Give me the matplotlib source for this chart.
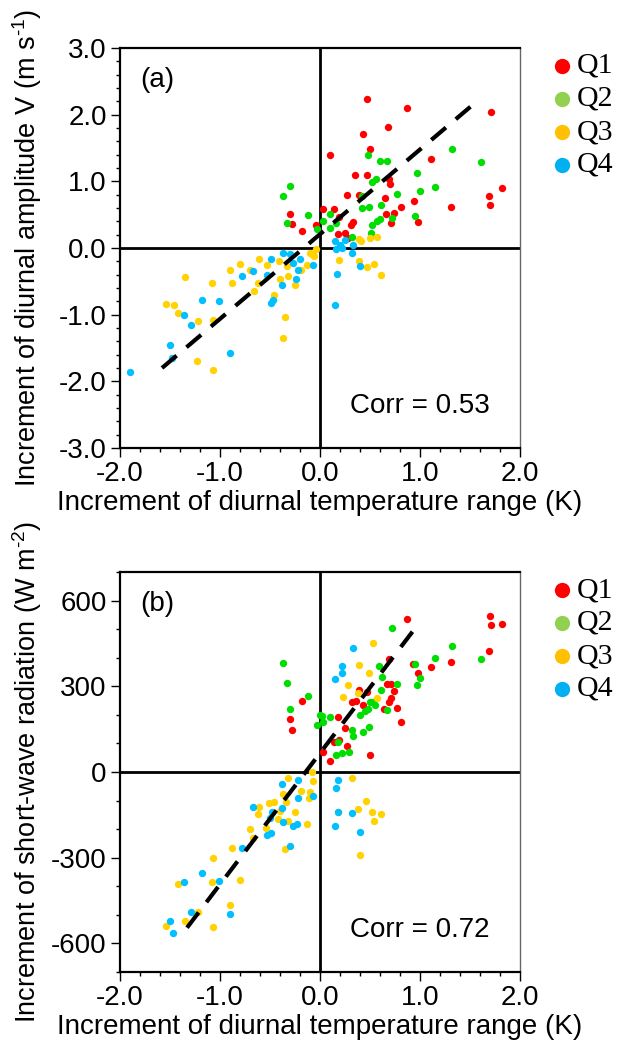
import matplotlib
matplotlib.use("Agg")
import matplotlib.pyplot as plt
import numpy as np

plt.rcParams["font.family"] = "Liberation Sans"
plt.rcParams["mathtext.fontset"] = "custom"
plt.rcParams["mathtext.rm"] = "Liberation Sans"
plt.rcParams["mathtext.it"] = "Liberation Sans:italic"

# ---- panel (a): DTR increment vs diurnal amplitude V increment ----
a_q1_x = [-0.30, -0.28, -0.18, -0.04, 0.47, 0.87, 1.71, 0.68, 0.43, 0.10, 0.50, 1.11,
          0.35, 0.47, 0.69, 0.70, 1.82, 1.69, 1.70, 1.31, 0.27, 0.39, 0.65, 0.81,
          0.94, 0.03, 0.14, 0.19, 0.66, 0.74, 0.71, 0.98, 0.33, 0.31, 0.25, 0.18, 0.28]
a_q1_y = [0.51, 0.36, 0.26, 0.34, 2.24, 2.10, 2.04, 1.82, 1.71, 1.40, 1.48, 1.34,
          1.09, 1.10, 1.04, 0.96, 0.90, 0.78, 0.64, 0.61, 0.80, 0.80, 0.75, 0.62,
          0.70, 0.59, 0.59, 0.46, 0.51, 0.52, 0.38, 0.39, 0.39, 0.34, 0.23, 0.21, 0.15]
a_q2_x = [-0.30, -0.37, -0.12, -0.33, -0.03, 0.48, 0.60, 0.67, 1.32, 1.61, 0.52, 0.56,
          0.97, 1.15, 1.00, 0.42, 0.77, 0.61, 0.42, 0.49, 0.10, 0.03, 0.16, 0.72,
          0.60, 0.57, 0.52, 0.95, 0.51, 0.32, 0.10]
a_q2_y = [0.93, 0.78, 0.49, 0.38, 0.28, 1.40, 1.30, 1.30, 1.48, 1.29, 0.99, 1.03,
          1.13, 0.92, 0.86, 0.78, 0.81, 0.65, 0.60, 0.61, 0.51, 0.40, 0.38, 0.45,
          0.44, 0.40, 0.34, 0.48, 0.23, 0.17, 0.30]
a_q3_x = [-0.10, -0.06, -0.61, -0.53, -0.41, -0.33, -0.80, -0.90, -0.70, -0.19, -0.13,
          -1.35, -1.08, -0.88, -0.62, -0.40, -0.32, -0.25, -0.66, -0.46, -1.54, -1.46,
          -1.42, -1.22, -1.07, -0.35, -0.37, -1.23, -1.07, -0.07, 0.19, 0.39, 0.47,
          0.54, 0.61, 0.39, 0.50, 0.57, 0.41, -0.04]
a_q3_y = [-0.07, -0.12, -0.16, -0.26, -0.19, -0.27, -0.24, -0.33, -0.33, -0.33, -0.26,
          -0.44, -0.52, -0.52, -0.53, -0.47, -0.42, -0.56, -0.64, -0.70, -0.84, -0.86,
          -0.98, -1.10, -1.08, -1.03, -1.35, -1.70, -1.83, -0.10, -0.18, -0.19, -0.29,
          -0.24, -0.41, 0.13, 0.15, 0.16, 0.10, -0.02]
a_q4_x = [-0.37, -0.30, -0.20, -0.49, -0.27, -0.67, -0.07, -0.22, -0.53, -0.78, -0.38,
          -0.24, -0.47, -0.49, -1.18, -1.01, -1.36, -1.29, -1.50, -1.48, -0.90, -1.90,
          0.15, 0.20, 0.25, 0.33, 0.16, 0.32, 0.40, 0.17, 0.15, 0.22]
a_q4_y = [-0.07, -0.09, -0.16, -0.17, -0.22, -0.34, -0.25, -0.33, -0.40, -0.42, -0.55,
          -0.47, -0.78, -0.83, -0.78, -0.80, -1.01, -1.16, -1.45, -1.65, -1.58, -1.86,
          0.10, 0.05, 0.12, 0.04, -0.02, -0.08, -0.27, -0.39, -0.86, 0.00]
a_fit_x = [-1.58, 1.60]
a_fit_y = [-1.80, 2.24]
a_corr = "Corr = 0.53"

# ---- panel (b): DTR increment vs short-wave radiation increment ----
b_q1_x = [-0.18, -0.30, -0.28, 0.87, 1.70, 1.71, 1.82, 1.69, 1.31, 1.11, 0.93, 0.98,
          0.69, 0.39, 0.47, 0.67, 0.71, 0.74, 0.71, 0.69, 0.32, 0.43, 0.64, 0.77,
          0.81, 0.25, 0.18, 0.19, 0.14, 0.27, 0.50, 0.10, 0.03, 0.36]
b_q1_y = [247, 184, 147, 537, 545, 516, 519, 422, 385, 368, 377, 345,
          395, 287, 279, 309, 309, 285, 258, 246, 244, 234, 219, 223,
          176, 155, 194, 113, 104, 91, 61, 37, 71, 250]
b_q2_x = [-0.37, -0.33, -0.12, -0.30, 0.00, -0.03, 0.72, 1.32, 1.61, 1.15, 0.95, 1.00,
          0.97, 0.59, 0.62, 0.77, 0.61, 0.53, 0.50, 0.67, 0.49, 0.43, 0.32, 0.33,
          0.10, 0.02, 0.03, 0.18, 0.29, 0.22, 0.16, 0.40, 0.48, 0.45, 0.55]
b_q2_y = [381, 313, 267, 220, 200, 163, 503, 441, 394, 399, 377, 328,
          305, 372, 334, 307, 286, 244, 246, 217, 159, 139, 147, 127,
          191, 197, 176, 106, 71, 65, 60, 200, 222, 215, 235]
b_q3_x = [0.53, 0.39, 0.49, 0.28, 0.23, 0.38, 0.57, -0.08, -0.32, -0.07, -0.19, -0.37,
          -0.10, -0.11, -0.51, -0.46, -0.34, -0.40, -0.61, -0.62, -0.25, -0.42, -0.32,
          -0.13, -0.54, -0.70, -0.67, -0.88, -0.35, -1.07, -1.42, -1.08, -0.80, -0.90,
          -1.22, -1.35, -1.07, -1.54, 0.32, 0.46, 0.38, 0.18, 0.52, 0.61, 0.54, 0.40]
b_q3_y = [453, 376, 348, 305, 261, 278, 259, 1, -20, -30, -65, -77,
          -70, -92, -110, -104, -106, -137, -121, -146, -139, -164, -170,
          -182, -195, -200, -232, -265, -270, -300, -392, -385, -378, -467,
          -491, -522, -541, -539, -22, -100, -130, -139, -141, -146, -172, -289]
b_q4_x = [0.33, 0.22, 0.22, 0.15, -0.22, -0.38, -0.07, -0.22, -0.38, -0.67, -0.48,
          -0.50, -0.37, -0.27, -0.23, -0.49, -0.53, -0.78, -0.30, -1.18, -1.36, -1.01,
          -0.90, -1.29, -1.50, -1.47, 0.18, 0.16, 0.18, 0.32, 0.15, 0.40]
b_q4_y = [433, 371, 346, 326, -28, -43, -83, -92, -127, -124, -139,
          -162, -174, -189, -182, -212, -220, -265, -259, -355, -384, -382,
          -496, -491, -523, -562, -27, -55, -139, -142, -189, -209]
b_fit_x = [-1.33, 0.99]
b_fit_y = [-545, 521]
b_corr = "Corr = 0.72"

labels = ["Q1", "Q2", "Q3", "Q4"]
dot_colors = ["#FF0000", "#00DD00", "#FFD200", "#00BFFF"]
legend_colors = ["#FF0000", "#92D050", "#FFC000", "#00B0F0"]

FS = 20
W, H = 617, 1047
fig = plt.figure(figsize=(W / 100, H / 100), dpi=100)

# short hyphen in the superscripts, like the original
HY = "\u2010"
panels = [
    dict(rect=[120 / W, 1 - 448 / H, 400 / W, 400 / H], tag="(a)",
         xs=[a_q1_x, a_q2_x, a_q3_x, a_q4_x], ys=[a_q1_y, a_q2_y, a_q3_y, a_q4_y],
         fx=a_fit_x, fy=a_fit_y, corr=a_corr, ylim=(-3, 3),
         yticks=np.arange(-3, 3.01, 1.0), yminor=np.arange(-3, 3.01, 0.2), yfmt="%.1f",
         ylabel="Increment of diurnal amplitude V (m s$^{" + HY + "1}$)"),
    dict(rect=[120 / W, 1 - 972 / H, 400 / W, 400 / H], tag="(b)",
         xs=[b_q1_x, b_q2_x, b_q3_x, b_q4_x], ys=[b_q1_y, b_q2_y, b_q3_y, b_q4_y],
         fx=b_fit_x, fy=b_fit_y, corr=b_corr, ylim=(-700, 700),
         yticks=np.arange(-600, 601, 300), yminor=np.arange(-700, 701, 100), yfmt="%d",
         ylabel="Increment of short-wave radiation (W m$^{" + HY + "2}$)"),
]

for p in panels:
    ax = fig.add_axes(p["rect"])
    ax.set_xlim(-2, 2)
    ax.set_ylim(*p["ylim"])

    ax.axhline(0, color="black", lw=2, zorder=1)
    ax.axvline(0, color="black", lw=2, zorder=1)

    for xs, ys, c in zip(p["xs"], p["ys"], dot_colors):
        ax.scatter(xs, ys, s=28, color=c, linewidths=0, zorder=2)

    ax.plot(p["fx"], p["fy"], color="black", lw=3, linestyle=(0, (4.6, 3.1)), zorder=3)

    ax.text(0.05, 0.92, p["tag"], transform=ax.transAxes, fontsize=FS, va="center")
    ax.text(0.575, 0.105, p["corr"], transform=ax.transAxes, fontsize=FS, va="center")

    # ticks
    ax.set_xticks(np.arange(-2, 2.01, 1.0))
    ax.set_xticks(np.arange(-2, 2.01, 0.2), minor=True)
    ax.set_xticklabels(["%.1f" % v for v in np.arange(-2, 2.01, 1.0)])
    ax.set_yticks(p["yticks"])
    ax.set_yticks(p["yminor"], minor=True)
    ax.set_yticklabels([p["yfmt"] % v for v in p["yticks"]])
    ax.tick_params(which="both", direction="out", top=False, right=False,
                   labelsize=FS, width=1)
    ax.tick_params(which="major", length=6.5, pad=3)
    ax.tick_params(which="minor", length=3)

    for side in ["left", "top", "bottom"]:
        ax.spines[side].set_linewidth(1.6)
    ax.spines["right"].set_linewidth(1.0)
    ax.spines["right"].set_color("#666666")

    ax.set_xlabel("Increment of diurnal temperature range (K)", fontsize=FS)
    ax.xaxis.set_label_coords(0.5, -0.105)
    ax.set_ylabel(p["ylabel"], fontsize=19.5)
    ax.yaxis.set_label_coords(-0.19, 0.5)

    # legend drawn by hand outside the axes
    for i, (lab, c) in enumerate(zip(labels, legend_colors)):
        yy = 0.955 - i * 0.0825
        ax.plot([1.105], [yy], "o", ms=11, color=c, mec="none",
                transform=ax.transAxes, clip_on=False)
        ax.text(1.143, yy, lab, transform=ax.transAxes, fontsize=21.5,
                family="Liberation Serif", va="center")

fig.savefig("out.png", dpi=100)
